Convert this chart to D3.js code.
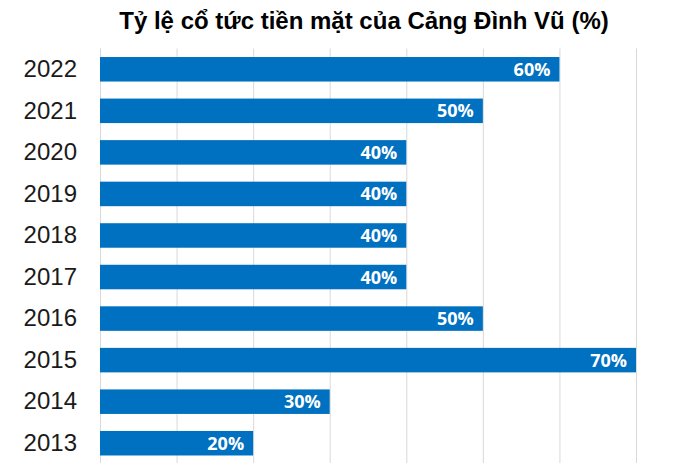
<!DOCTYPE html>
<html>
<head>
<meta charset="utf-8">
<script src="https://cdn.jsdelivr.net/npm/d3@7"></script>
<style>
  html, body { margin: 0; padding: 0; background: #fff; }
  svg { display: block; }
</style>
</head>
<body>
<svg id="chart" width="700" height="474"></svg>
<script>
const titleText = "Tỷ lệ cổ tức tiền mặt của Cảng Đình Vũ (%)";
const years = ["2022", "2021", "2020", "2019", "2018", "2017", "2016", "2015", "2014", "2013"];
const dividends = [60, 50, 40, 40, 40, 40, 50, 70, 30, 20];
const xTicks = [0, 10, 20, 30, 40, 50, 60, 70];

const svg = d3.select("#chart");
const plot = { left: 100, right: 636, top: 48.5, bottom: 464 };

const x = d3.scaleLinear().domain([0, 70]).range([plot.left, plot.right]);
const y = d3.scaleBand().domain(years).range([plot.top, plot.bottom])
  .paddingInner(0.41).paddingOuter(0.205);

svg.append("text")
  .attr("x", 364).attr("y", 29)
  .attr("text-anchor", "middle")
  .attr("font-family", "'Liberation Sans', Arial, sans-serif")
  .attr("font-weight", "bold")
  .attr("font-size", 24)
  .attr("fill", "#000")
  .text(titleText);

// gridlines
const grid = svg.append("g")
  .attr("transform", `translate(0,${plot.bottom - 1})`)
  .call(d3.axisBottom(x).tickValues(xTicks).tickSize(-(plot.bottom - 1 - plot.top)).tickFormat(""));
grid.select(".domain").remove();
grid.selectAll(".tick line").attr("stroke", "#d9d9d9").attr("stroke-width", 1);

// y axis labels
const yAxis = svg.append("g")
  .attr("transform", `translate(${plot.left},0)`)
  .call(d3.axisLeft(y).tickSize(0).tickPadding(23));
yAxis.select(".domain").remove();
yAxis.selectAll("text")
  .attr("font-family", "'Liberation Sans', Arial, sans-serif")
  .attr("font-size", 24)
  .attr("fill", "#1a1a1a");

// bars
svg.append("g").selectAll("rect")
  .data(years)
  .join("rect")
  .attr("x", x(0))
  .attr("y", d => y(d))
  .attr("width", (d, i) => x(dividends[i]) - x(0))
  .attr("height", y.bandwidth())
  .attr("fill", "#0070C0");

// labels
svg.append("g").selectAll("text")
  .data(years)
  .join("text")
  .attr("x", (d, i) => x(dividends[i]) - 9)
  .attr("y", d => y(d) + y.bandwidth() / 2)
  .attr("dy", "0.36em")
  .attr("text-anchor", "end")
  .attr("font-family", "'Open Sans', sans-serif")
  .attr("font-weight", "bold")
  .attr("font-size", 18)
  .attr("fill", "#fff")
  .text((d, i) => dividends[i] + "%");
</script>
</body>
</html>
